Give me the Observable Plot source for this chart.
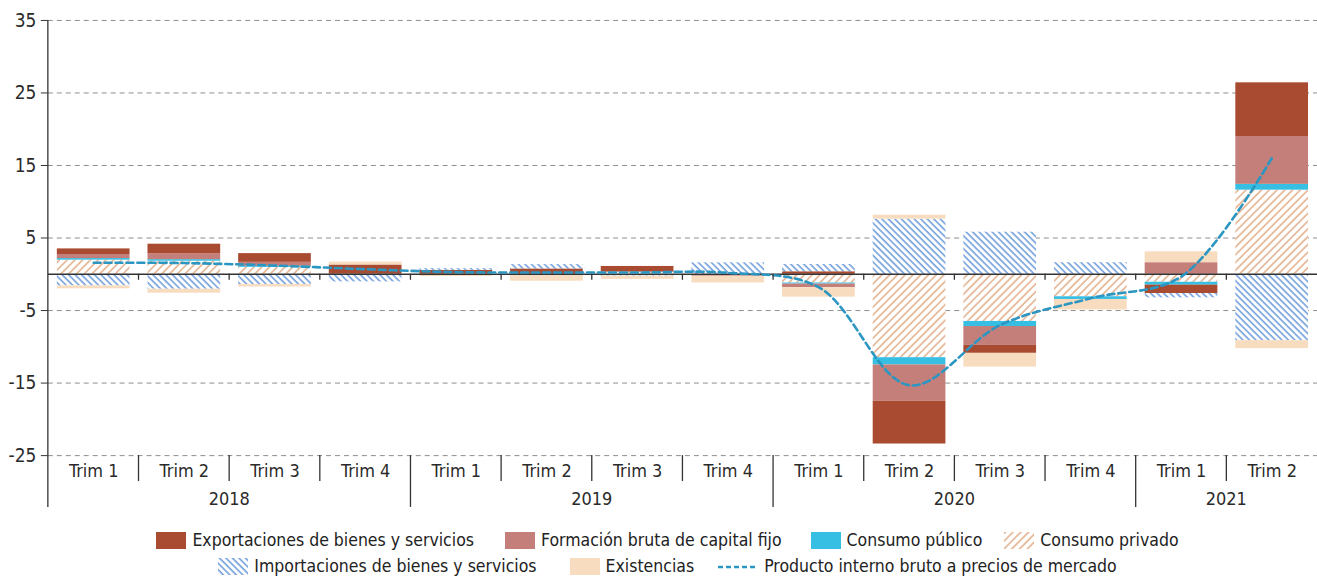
<!DOCTYPE html>
<html>
<head>
<meta charset="utf-8">
<script src="https://cdn.jsdelivr.net/npm/d3@7"></script>
<script src="https://cdn.jsdelivr.net/npm/@observablehq/plot@0.6"></script>
<style>
  html, body { margin: 0; padding: 0; background: #fff; overflow: hidden; }
  body { font-family: "DejaVu Sans Condensed", "Liberation Sans Narrow", sans-serif; color: #222; }
  #chart svg { display: block; }
  .legend { width: 1335px; position: relative; }
  .row { display: flex; justify-content: center; align-items: center; height: 26px; font-size: 17.5px; white-space: nowrap; }
  .item { display: flex; align-items: center; }
  .item svg { display: block; margin-right: 6px; }
</style>
</head>
<body>
<svg width="0" height="0" style="position:absolute">
  <defs>
    <pattern id="hPriv" patternUnits="userSpaceOnUse" width="5.5" height="5.5" patternTransform="rotate(45)">
      <rect width="5.5" height="5.5" fill="#ffffff"/>
      <line x1="1" y1="0" x2="1" y2="5.5" stroke="#e2ad88" stroke-width="1.5"/>
    </pattern>
    <pattern id="hImp" patternUnits="userSpaceOnUse" width="4.6" height="4.6" patternTransform="rotate(-45)">
      <rect width="4.6" height="4.6" fill="#ffffff"/>
      <line x1="1" y1="0" x2="1" y2="4.6" stroke="#5f93d6" stroke-width="1.4"/>
    </pattern>
  </defs>
</svg>
<div id="chart"></div>
<div class="legend" id="legend"></div>
<script>
// ---------- data ----------
const periodos = ["2018 T1","2018 T2","2018 T3","2018 T4","2019 T1","2019 T2","2019 T3","2019 T4","2020 T1","2020 T2","2020 T3","2020 T4","2021 T1","2021 T2"];
const trimLabels = ["Trim 1","Trim 2","Trim 3","Trim 4","Trim 1","Trim 2","Trim 3","Trim 4","Trim 1","Trim 2","Trim 3","Trim 4","Trim 1","Trim 2"];
const years = ["2018","2019","2020","2021"];
const yearOf = ["2018","2018","2018","2018","2019","2019","2019","2019","2020","2020","2020","2020","2021","2021"];
const yTicks = [35, 25, 15, 5, -5, -15, -25];

const series = ["Consumo privado","Consumo público","Formación bruta de capital fijo","Exportaciones de bienes y servicios","Importaciones de bienes y servicios","Existencias"];
const consumoPrivado  = [1.95, 1.80, 0.96, 0.00,  0.00, 0.00, 0.30, 0.00,  -1.20, -11.50, -6.50, -3.10,  -1.10, 11.60];
const consumoPublico  = [0.22, 0.22, 0.14, 0.00,  0.00, 0.00, 0.00, 0.00,  -0.15,  -1.00, -0.70, -0.37,  -0.40,  0.80];
const fbcf            = [0.55, 0.83, 0.55, 0.00,  0.00,-0.20, 0.00,-0.27,  -0.50,  -5.00, -2.60,  0.00,   1.60,  6.60];
const exportaciones   = [0.78, 1.30, 1.20, 1.28,  0.55, 0.74, 0.78, 0.00,   0.35,  -5.90, -1.10,  0.00,  -1.15,  7.40];
const importaciones   = [-1.60,-2.06,-1.42,-1.05, 0.23, 0.60,-0.25, 1.58,   1.00,   7.60,  5.80,  1.60,  -0.60, -9.15];
const existencias     = [-0.40,-0.55,-0.33, 0.40,-0.30,-0.75,-0.45,-0.92,  -1.30,   0.55, -1.90, -1.45,   1.50, -1.10];
const pib             = [1.60, 1.55, 1.20, 0.70,  0.30, 0.25, 0.25, 0.20,  -1.80, -15.30, -7.00, -3.30,  -0.30, 16.10];

const seriesColors = ["url(#hPriv)", "#36bee3", "#c47f7a", "#a94b30", "url(#hImp)", "#f8dcbf"];
const pibLabel = "Producto interno bruto a precios de mercado";

// ---------- build tables ----------
const valores = [consumoPrivado, consumoPublico, fbcf, exportaciones, importaciones, existencias];
const tidy = [];
series.forEach((s, j) => valores[j].forEach((v, i) => tidy.push({periodo: periodos[i], serie: s, valor: v})));
const pibData = periodos.map((p, i) => ({periodo: p, valor: pib[i]}));

const FONT = '"DejaVu Sans Condensed", "Liberation Sans Narrow", sans-serif';

const chart = Plot.plot({
  width: 1321,
  height: 515,
  marginLeft: 48,
  marginRight: 0,
  marginTop: 20,
  marginBottom: 58.5,
  style: {fontFamily: FONT, fontSize: "18px", color: "#2a2a2a", background: "#fff", overflow: "visible"},
  x: {domain: periodos, padding: 0, round: false, axis: null},
  y: {domain: [-25, 35], axis: null},
  color: {type: "ordinal", domain: series, range: seriesColors},
  marks: [
    Plot.ruleY(yTicks, {stroke: "#8e8e8e", strokeWidth: 1, strokeDasharray: "5,4"}),
    Plot.barY(tidy, {x: "periodo", y: "valor", fill: "serie", insetLeft: 9, insetRight: 9}),
    Plot.ruleY([0], {stroke: "#333", strokeWidth: 1.6}),
    Plot.axisY(yTicks, {tickSize: 7, tickPadding: 5, tickFormat: d => String(d), fontSize: 19, stroke: "#333", label: null}),
    Plot.axisX({tickSize: 0, tickPadding: 9, tickFormat: d => trimLabels[periodos.indexOf(d)], fontSize: 18, label: null}),
    Plot.line(pibData, {x: "periodo", y: "valor", curve: "catmull-rom", stroke: "#2b96c2", strokeWidth: 2.6, strokeDasharray: "7,4"})
  ]
});

document.getElementById("chart").appendChild(chart);

// ---------- structural lines & year labels through Plot's scales ----------
const xs = chart.scale("x"), ys = chart.scale("y");
const step = xs.step;
const leftOf = p => xs.apply(p);
const yZero = ys.apply(0), yBot = ys.apply(-25), yTop = ys.apply(35);
const svg = d3.select(chart);
const g = svg.append("g").attr("stroke", "#333").attr("stroke-width", 1.3).attr("fill", "none");
g.append("line").attr("x1", leftOf(periodos[0])).attr("x2", leftOf(periodos[0])).attr("y1", yTop).attr("y2", yBot + 52);
periodos.forEach((p, i) => {
  if (i === 0) return;
  const x = leftOf(p);
  g.append("line").attr("x1", x).attr("x2", x).attr("y1", yZero).attr("y2", yZero + 6);
  const newYear = yearOf[i] !== yearOf[i - 1];
  g.append("line").attr("x1", x).attr("x2", x).attr("y1", yBot).attr("y2", yBot + (newYear ? 52 : 26));
});
const tg = svg.append("g").attr("font-family", FONT).attr("font-size", 18).attr("fill", "#2a2a2a").attr("text-anchor", "middle");
years.forEach(yr => {
  const ps = periodos.filter((p, i) => yearOf[i] === yr);
  const x0 = leftOf(ps[0]), x1 = leftOf(ps[ps.length - 1]) + step;
  tg.append("text").attr("x", (x0 + x1) / 2).attr("y", yBot + 50).text(yr);
});

// ---------- legend ----------
function swatch(fill) {
  return `<svg width="30" height="17"><rect width="30" height="17" fill="${fill}"/></svg>`;
}
const rows = [
  [[swatch(seriesColors[3]), series[3]], [swatch(seriesColors[2]), series[2]], [swatch(seriesColors[1]), series[1]], [swatch(seriesColors[0]), series[0]]],
  [[swatch(seriesColors[4]), series[4]], [swatch(seriesColors[5]), series[5]],
   [`<svg width="40" height="17"><line x1="0" x2="40" y1="9" y2="9" stroke="#2b96c2" stroke-width="2.4" stroke-dasharray="5,3"/></svg>`, pibLabel]]
];
const gaps = [[0, 31, 29, 22], [0, 33, 24]];
const legend = document.getElementById("legend");
legend.style.marginTop = "14px";
rows.forEach((r, ri) => {
  const row = document.createElement("div");
  row.className = "row";
  r.forEach(([sw, label], k) => {
    const it = document.createElement("div");
    it.className = "item";
    it.style.marginLeft = gaps[ri][k] + "px";
    it.innerHTML = sw + `<span>${label}</span>`;
    row.appendChild(it);
  });
  legend.appendChild(row);
});
</script>
</body>
</html>
